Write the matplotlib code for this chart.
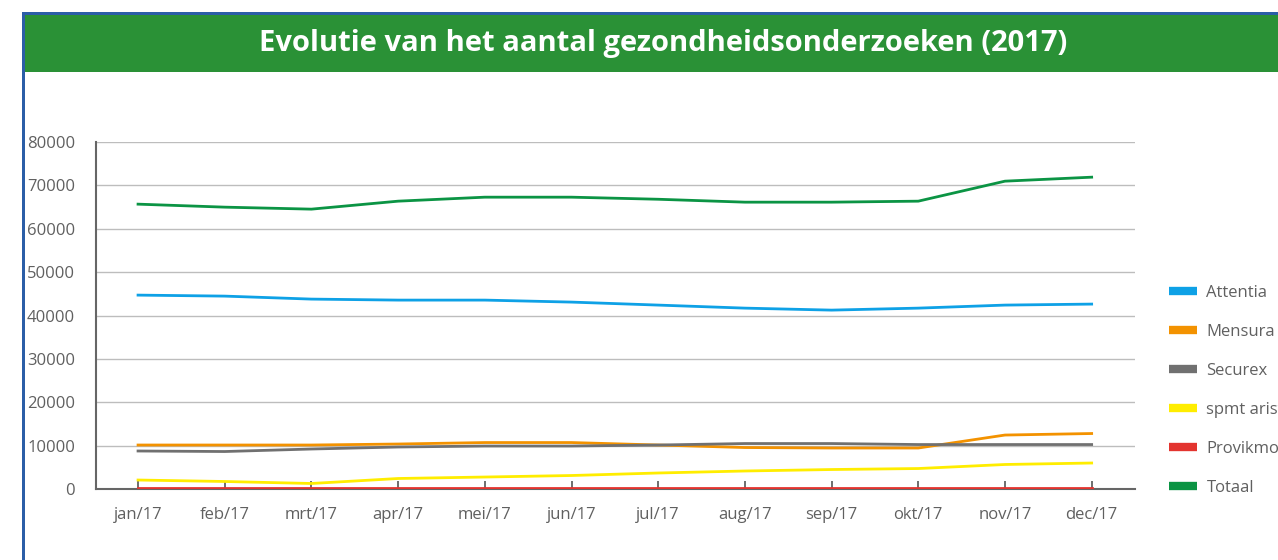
import matplotlib
matplotlib.use("Agg")
import matplotlib.pyplot as plt
from matplotlib.patches import Rectangle
from matplotlib.lines import Line2D

plt.rcParams['font.family'] = ['Open Sans', 'DejaVu Sans']

months = ['jan/17', 'feb/17', 'mrt/17', 'apr/17', 'mei/17', 'jun/17',
          'jul/17', 'aug/17', 'sep/17', 'okt/17', 'nov/17', 'dec/17']

attentia = [44700, 44470, 43780, 43550, 43550, 43090, 42400, 41700, 41240, 41700, 42400, 42630]
mensura = [10140, 10140, 10140, 10370, 10710, 10710, 10140, 9560, 9450, 9450, 12440, 12790]
securex = [8760, 8640, 9220, 9680, 9910, 9910, 10140, 10480, 10480, 10250, 10250, 10250]
spmt_arista = [2070, 1730, 1270, 2420, 2760, 3110, 3690, 4150, 4490, 4720, 5650, 5990]
provikmo = [150, 150, 150, 150, 150, 150, 150, 150, 150, 150, 150, 150]
totaal = [65670, 64980, 64520, 66360, 67280, 67280, 66800, 66130, 66130, 66360, 70970, 71890]

series = [('Attentia', attentia, '#0ea1e6'),
          ('Mensura', mensura, '#f39200'),
          ('Securex', securex, '#707070'),
          ('spmt arista', spmt_arista, '#ffed00'),
          ('Provikmo', provikmo, '#e3342f'),
          ('Totaal', totaal, '#0b9444')]

W, H = 1278, 560
fig = plt.figure(figsize=(W / 100, H / 100), dpi=100)

# frame + green title banner
fig.add_artist(Rectangle((22 / W, 0), 3 / W, 1 - 12 / H, transform=fig.transFigure,
                         color='#2b5ea7', lw=0))
fig.add_artist(Rectangle((22 / W, 1 - 15 / H), 1, 3 / H, transform=fig.transFigure,
                         color='#2b5ea7', lw=0))
fig.add_artist(Rectangle((25 / W, 1 - 72 / H), 1, 57 / H, transform=fig.transFigure,
                         color='#2a9136', lw=0))
fig.text(663 / W, 1 - 44 / H, 'Evolutie van het aantal gezondheidsonderzoeken (2017)',
         color='white', fontsize=21, fontweight='bold', ha='center', va='center')

ax = fig.add_axes([96 / W, 1 - 489 / H, (1135 - 96) / W, (489 - 142) / H])
x = list(range(len(months)))
for name, vals, col in series:
    ax.plot(x, vals, color=col, lw=2.0, label=name, zorder=3)

ax.set_xlim(-0.485, 11.5)
ax.set_ylim(0, 80000)
ax.set_yticks(range(0, 80001, 10000))
ax.set_xticks(x)
ax.set_xticklabels(months)
ax.yaxis.grid(True, color='#bdbdbd', lw=1)
ax.set_axisbelow(True)
for s in ['top', 'right']:
    ax.spines[s].set_visible(False)
for s in ['left', 'bottom']:
    ax.spines[s].set_color('#666666')
    ax.spines[s].set_linewidth(1.5)
ax.tick_params(axis='x', direction='in', length=6, color='#555555', width=1.2,
               labelsize=12, labelcolor='#606060', pad=13)
ax.tick_params(axis='y', length=0, labelsize=12, labelcolor='#606060', pad=15)

handles = [Line2D([], [], color=c, lw=6, solid_capstyle='butt') for _, _, c in series]
fig.legend(handles, [n for n, _, _ in series], loc='upper left',
           bbox_to_anchor=(1154 / W, 1 - 270 / H), frameon=False, fontsize=12,
           labelcolor='#606060', handlelength=1.7, handletextpad=0.55, labelspacing=1.38)

fig.savefig('out.png', dpi=100)
